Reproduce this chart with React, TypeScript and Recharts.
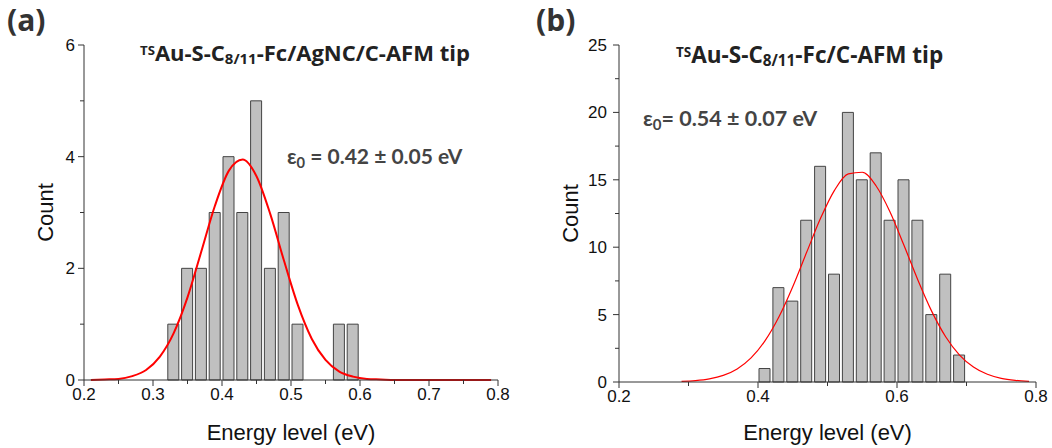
import { ComposedChart, Bar, Line, XAxis, YAxis } from 'recharts';

// grid of energies (eV) shared by the histogram bins and the fitted curves
const fitEnergies = [
  0.21, 0.23, 0.25, 0.27, 0.29, 0.31, 0.33, 0.35, 0.37, 0.39,
  0.41, 0.43, 0.45, 0.47, 0.49, 0.51, 0.53, 0.55, 0.57, 0.59,
  0.61, 0.63, 0.65, 0.67, 0.69, 0.71, 0.73, 0.75, 0.77, 0.79,
];

// (a) TSAu-S-C8/11-Fc/AgNC/C-AFM tip
const binCentersA = [0.33, 0.35, 0.37, 0.39, 0.41, 0.43, 0.45, 0.47, 0.49, 0.51, 0.57, 0.59];
const countsA = [1, 2, 2, 3, 4, 3, 5, 2, 3, 1, 1, 1];
const fitA = [
  0, 0.01, 0.02, 0.07, 0.18, 0.42, 0.84, 1.48, 2.3, 3.13,
  3.75, 3.95, 3.65, 2.97, 2.13, 1.34, 0.74, 0.36, 0.15, 0.06,
  0.02, 0.01, 0, 0, 0, 0, 0, 0, 0, 0,
];

// (b) TSAu-S-C8/11-Fc/C-AFM tip
const binCentersB = [0.41, 0.43, 0.45, 0.47, 0.49, 0.51, 0.53, 0.55, 0.57, 0.59, 0.61, 0.63, 0.65, 0.67, 0.69];
const countsB = [1, 7, 6, 12, 16, 8, 20, 15, 17, 12, 15, 12, 5, 8, 2];
const fitB = [
  null, null, null, null, 0.04, 0.1, 0.23, 0.49, 0.97, 1.79,
  3.05, 4.82, 7.07, 9.62, 12.14, 14.22, 15.44, 15.56, 14.54, 12.61,
  10.14, 7.57, 5.24, 3.36, 2.0, 1.11, 0.57, 0.27, 0.12, 0.05,
];

const xTicksA = [0.2, 0.25, 0.3, 0.35, 0.4, 0.45, 0.5, 0.55, 0.6, 0.65, 0.7, 0.75, 0.8];
const xMajorA = [0.2, 0.3, 0.4, 0.5, 0.6, 0.7, 0.8];
const yTicksA = [0, 1, 2, 3, 4, 5, 6];
const yMajorA = [0, 2, 4, 6];

const xTicksB = [0.2, 0.3, 0.4, 0.5, 0.6, 0.7, 0.8];
const xMajorB = [0.2, 0.4, 0.6, 0.8];
const yTicksB = [0, 2.5, 5, 7.5, 10, 12.5, 15, 17.5, 20, 22.5, 25];
const yMajorB = [0, 5, 10, 15, 20, 25];

const buildRows = (centers: number[], counts: number[], fit: (number | null)[]) =>
  fitEnergies.map((e, i) => {
    const k = centers.findIndex((c) => Math.abs(c - e) < 1e-6);
    return { energy: e, count: k >= 0 ? counts[k] : null, fit: fit[i] };
  });

const rowsA = buildRows(binCentersA, countsA, fitA);
const rowsB = buildRows(binCentersB, countsB, fitB);

const AXIS = '#333';
const TICK_FONT = "'Liberation Sans', Arial, sans-serif";
const TITLE_FONT = "'Open Sans', Lato, sans-serif";
const NOTE_FONT = "Lato, 'Open Sans', sans-serif";

const isIn = (list: number[], v: number) => list.some((m) => Math.abs(m - v) < 1e-6);

const XTick = (props: any) => {
  const { x, y, payload, majors } = props;
  const major = isIn(majors, payload.value);
  return (
    <g>
      <line x1={x} y1={y} x2={x} y2={y + (major ? 6 : 4)} stroke={AXIS} />
      {major && (
        <text x={x} y={y + 20} textAnchor="middle" fontSize={17} fill="#111" fontFamily={TICK_FONT}>
          {payload.value.toFixed(1)}
        </text>
      )}
    </g>
  );
};

const YTick = (props: any) => {
  const { x, y, payload, majors, gap } = props;
  const major = isIn(majors, payload.value);
  return (
    <g>
      <line x1={x} y1={y} x2={x - (major ? 6 : 4)} y2={y} stroke={AXIS} />
      {major && (
        <text x={x - gap} y={y + 6} textAnchor="end" fontSize={17} fill="#111" fontFamily={TICK_FONT}>
          {payload.value}
        </text>
      )}
    </g>
  );
};

type PanelProps = {
  rows: { energy: number; count: number | null; fit: number | null }[];
  left: number;
  width: number;
  yWidth: number;
  xHeight: number;
  right: number;
  yMax: number;
  xTicks: number[];
  xMajor: number[];
  yTicks: number[];
  yMajor: number[];
  labelGap: number;
  countOffset: number;
  lineWidth: number;
};

const Panel = (p: PanelProps) => (
  <div style={{ position: 'absolute', left: p.left, top: 0 }}>
    <ComposedChart
      width={p.width}
      height={448}
      data={p.rows}
      margin={{ top: 45, right: p.right, left: 0, bottom: 0 }}
    >
      <XAxis
        dataKey="energy"
        type="number"
        domain={[0.2, 0.8]}
        ticks={p.xTicks}
        interval={0}
        height={p.xHeight}
        stroke={AXIS}
        tickLine={false}
        tickSize={0}
        tickMargin={0}
        tick={(t: any) => <XTick {...t} majors={p.xMajor} />}
        label={{
          value: 'Energy level (eV)',
          position: 'insideBottom',
          offset: 8,
          fontSize: 22,
          fill: '#111',
          fontFamily: TICK_FONT,
        }}
      />
      <YAxis
        type="number"
        domain={[0, p.yMax]}
        ticks={p.yTicks}
        interval={0}
        width={p.yWidth}
        stroke={AXIS}
        tickLine={false}
        tickSize={0}
        tickMargin={0}
        tick={(t: any) => <YTick {...t} majors={p.yMajor} gap={p.labelGap} />}
        label={{
          value: 'Count',
          angle: -90,
          position: 'insideLeft',
          offset: p.countOffset,
          fontSize: 22,
          fill: '#111',
          fontFamily: TICK_FONT,
          style: { textAnchor: 'middle' },
        }}
      />
      <Bar dataKey="count" barSize={11} fill="#c0c0c0" stroke="#444" strokeWidth={1} isAnimationActive={false} />
      <Line
        dataKey="fit"
        type="monotone"
        stroke="#ff0000"
        strokeWidth={p.lineWidth}
        dot={false}
        isAnimationActive={false}
      />
    </ComposedChart>
  </div>
);

const textBase: React.CSSProperties = {
  position: 'absolute',
  fontWeight: 700,
  whiteSpace: 'nowrap',
};

const Title = ({ middle }: { middle: string }) => (
  <span>
    <sup style={{ fontSize: '0.6em', verticalAlign: '0.45em', lineHeight: 0 }}>TS</sup>
    Au-S-C
    <sub style={{ fontSize: '0.68em', verticalAlign: '-0.2em', lineHeight: 0 }}>8/11</sub>
    {middle}
  </span>
);

export default function App() {
  return (
    <div style={{ position: 'absolute', left: 0, top: 0, width: 1052, height: 448, background: '#fff' }}>
      <Panel
        rows={rowsA}
        left={0}
        width={520}
        yWidth={84}
        xHeight={68}
        right={22}
        yMax={6}
        xTicks={xTicksA}
        xMajor={xMajorA}
        yTicks={yTicksA}
        yMajor={yMajorA}
        labelGap={9}
        countOffset={45}
        lineWidth={2}
      />
      <Panel
        rows={rowsB}
        left={530}
        width={522}
        yWidth={89}
        xHeight={66}
        right={16}
        yMax={25}
        xTicks={xTicksB}
        xMajor={xMajorB}
        yTicks={yTicksB}
        yMajor={yMajorB}
        labelGap={12}
        countOffset={40}
        lineWidth={1.2}
      />

      <div style={{ ...textBase, fontFamily: TITLE_FONT, left: 7, top: 3, fontSize: 30, lineHeight: '34px', color: '#333' }}>(a)</div>
      <div style={{ ...textBase, fontFamily: TITLE_FONT, left: 536, top: 3, fontSize: 30, lineHeight: '34px', color: '#333' }}>(b)</div>

      <div style={{ ...textBase, fontFamily: TITLE_FONT, left: 140, top: 37, fontSize: 22, color: '#222' }}>
        <Title middle="-Fc/AgNC/C-AFM tip" />
      </div>
      <div style={{ ...textBase, fontFamily: TITLE_FONT, left: 676, top: 39, fontSize: 22.5, color: '#222' }}>
        <Title middle="-Fc/C-AFM tip" />
      </div>

      <div style={{ ...textBase, fontFamily: NOTE_FONT, left: 287, top: 143, fontSize: 21, color: '#444' }}>
        ε<sub style={{ fontSize: '0.7em', verticalAlign: '-0.25em', lineHeight: 0 }}>0</sub> = 0.42 ± 0.05 eV
      </div>
      <div style={{ ...textBase, fontFamily: NOTE_FONT, left: 643, top: 105, fontSize: 21.5, color: '#444' }}>
        ε<sub style={{ fontSize: '0.7em', verticalAlign: '-0.25em', lineHeight: 0 }}>0</sub>= 0.54 ± 0.07 eV
      </div>
    </div>
  );
}
